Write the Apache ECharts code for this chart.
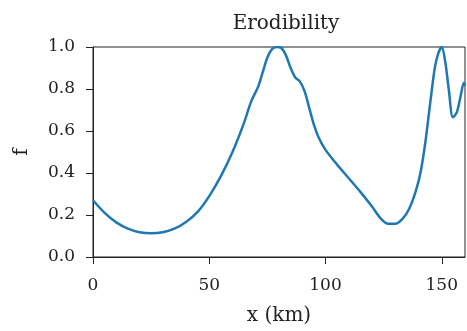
<!DOCTYPE html>
<html>
<head>
<meta charset="utf-8">
<script src="https://cdn.jsdelivr.net/npm/echarts@6/dist/echarts.min.js"></script>
<style>
  html, body { margin: 0; padding: 0; background: #fff; }
  #chart { width: 467px; height: 331px; }
</style>
</head>
<body>
<div id="chart"></div>
<script>
// x positions (km) and erodibility values
const xKm = [0, 5, 10, 15, 20, 25, 30, 35, 40, 45, 50, 55, 60, 65, 68, 71, 73, 75, 77, 79, 81, 83, 85, 87, 89, 91, 93, 95, 97, 100, 105, 110, 115, 120, 124, 127, 130, 133, 136, 139, 141, 143, 145, 147, 148.5, 150, 151.5, 153, 154.8, 156.5, 158, 159.5, 160];
const fVals = [0.27, 0.21, 0.165, 0.135, 0.118, 0.113, 0.118, 0.135, 0.167, 0.215, 0.29, 0.385, 0.5, 0.64, 0.74, 0.81, 0.88, 0.95, 0.99, 1.0, 0.995, 0.96, 0.9, 0.855, 0.835, 0.79, 0.71, 0.63, 0.57, 0.51, 0.44, 0.375, 0.31, 0.24, 0.18, 0.158, 0.158, 0.18, 0.23, 0.32, 0.41, 0.55, 0.73, 0.9, 0.97, 1.0, 0.93, 0.8, 0.665, 0.69, 0.76, 0.83, 0.815];
const xTicks = [0, 50, 100, 150];
const yTicks = [0.0, 0.2, 0.4, 0.6, 0.8, 1.0];

const font = 'DejaVu Serif';
const chart = echarts.init(document.getElementById('chart'));

const axisLine = { show: true, lineStyle: { color: '#222', width: 1 } };
const axisTick = { show: true, length: 7, inside: false, lineStyle: { color: '#222' } };

chart.setOption({
  animation: false,
  title: {
    text: 'Erodibility',
    left: 281,
    top: 9,
    textAlign: 'center',
    textStyle: { fontFamily: font, fontSize: 20, fontWeight: 'normal', color: '#222' }
  },
  grid: { left: 93, right: 2, top: 47, bottom: 72, show: true, borderColor: '#222', borderWidth: 1 },
  xAxis: {
    type: 'value',
    min: 0,
    max: 160,
    interval: 50,
    name: 'x (km)',
    nameLocation: 'middle',
    nameGap: 49,
    nameTextStyle: { fontFamily: font, fontSize: 20, color: '#222' },
    axisLine: axisLine,
    axisTick: axisTick,
    axisLabel: {
      fontFamily: font, fontSize: 17, color: '#222', margin: 20,
      showMaxLabel: false,
      formatter: v => xTicks.includes(v) ? String(v) : ''
    },
    splitLine: { show: false }
  },
  yAxis: {
    type: 'value',
    min: 0,
    max: 1,
    interval: 0.2,
    name: 'f',
    nameLocation: 'middle',
    nameGap: 61,
    nameRotate: 90,
    nameTextStyle: { fontFamily: font, fontSize: 20, color: '#222' },
    axisLine: axisLine,
    axisTick: axisTick,
    axisLabel: {
      fontFamily: font, fontSize: 17, color: '#222', margin: 18,
      formatter: v => yTicks.find(t => Math.abs(t - v) < 1e-9) !== undefined ? v.toFixed(1) : ''
    },
    splitLine: { show: false }
  },
  series: [{
    type: 'line',
    data: xKm.map((x, i) => [x, fVals[i]]),
    smooth: 0.3,
    showSymbol: false,
    clip: true,
    lineStyle: { color: '#1f77b4', width: 2.5 }
  }]
});
</script>
</body>
</html>
